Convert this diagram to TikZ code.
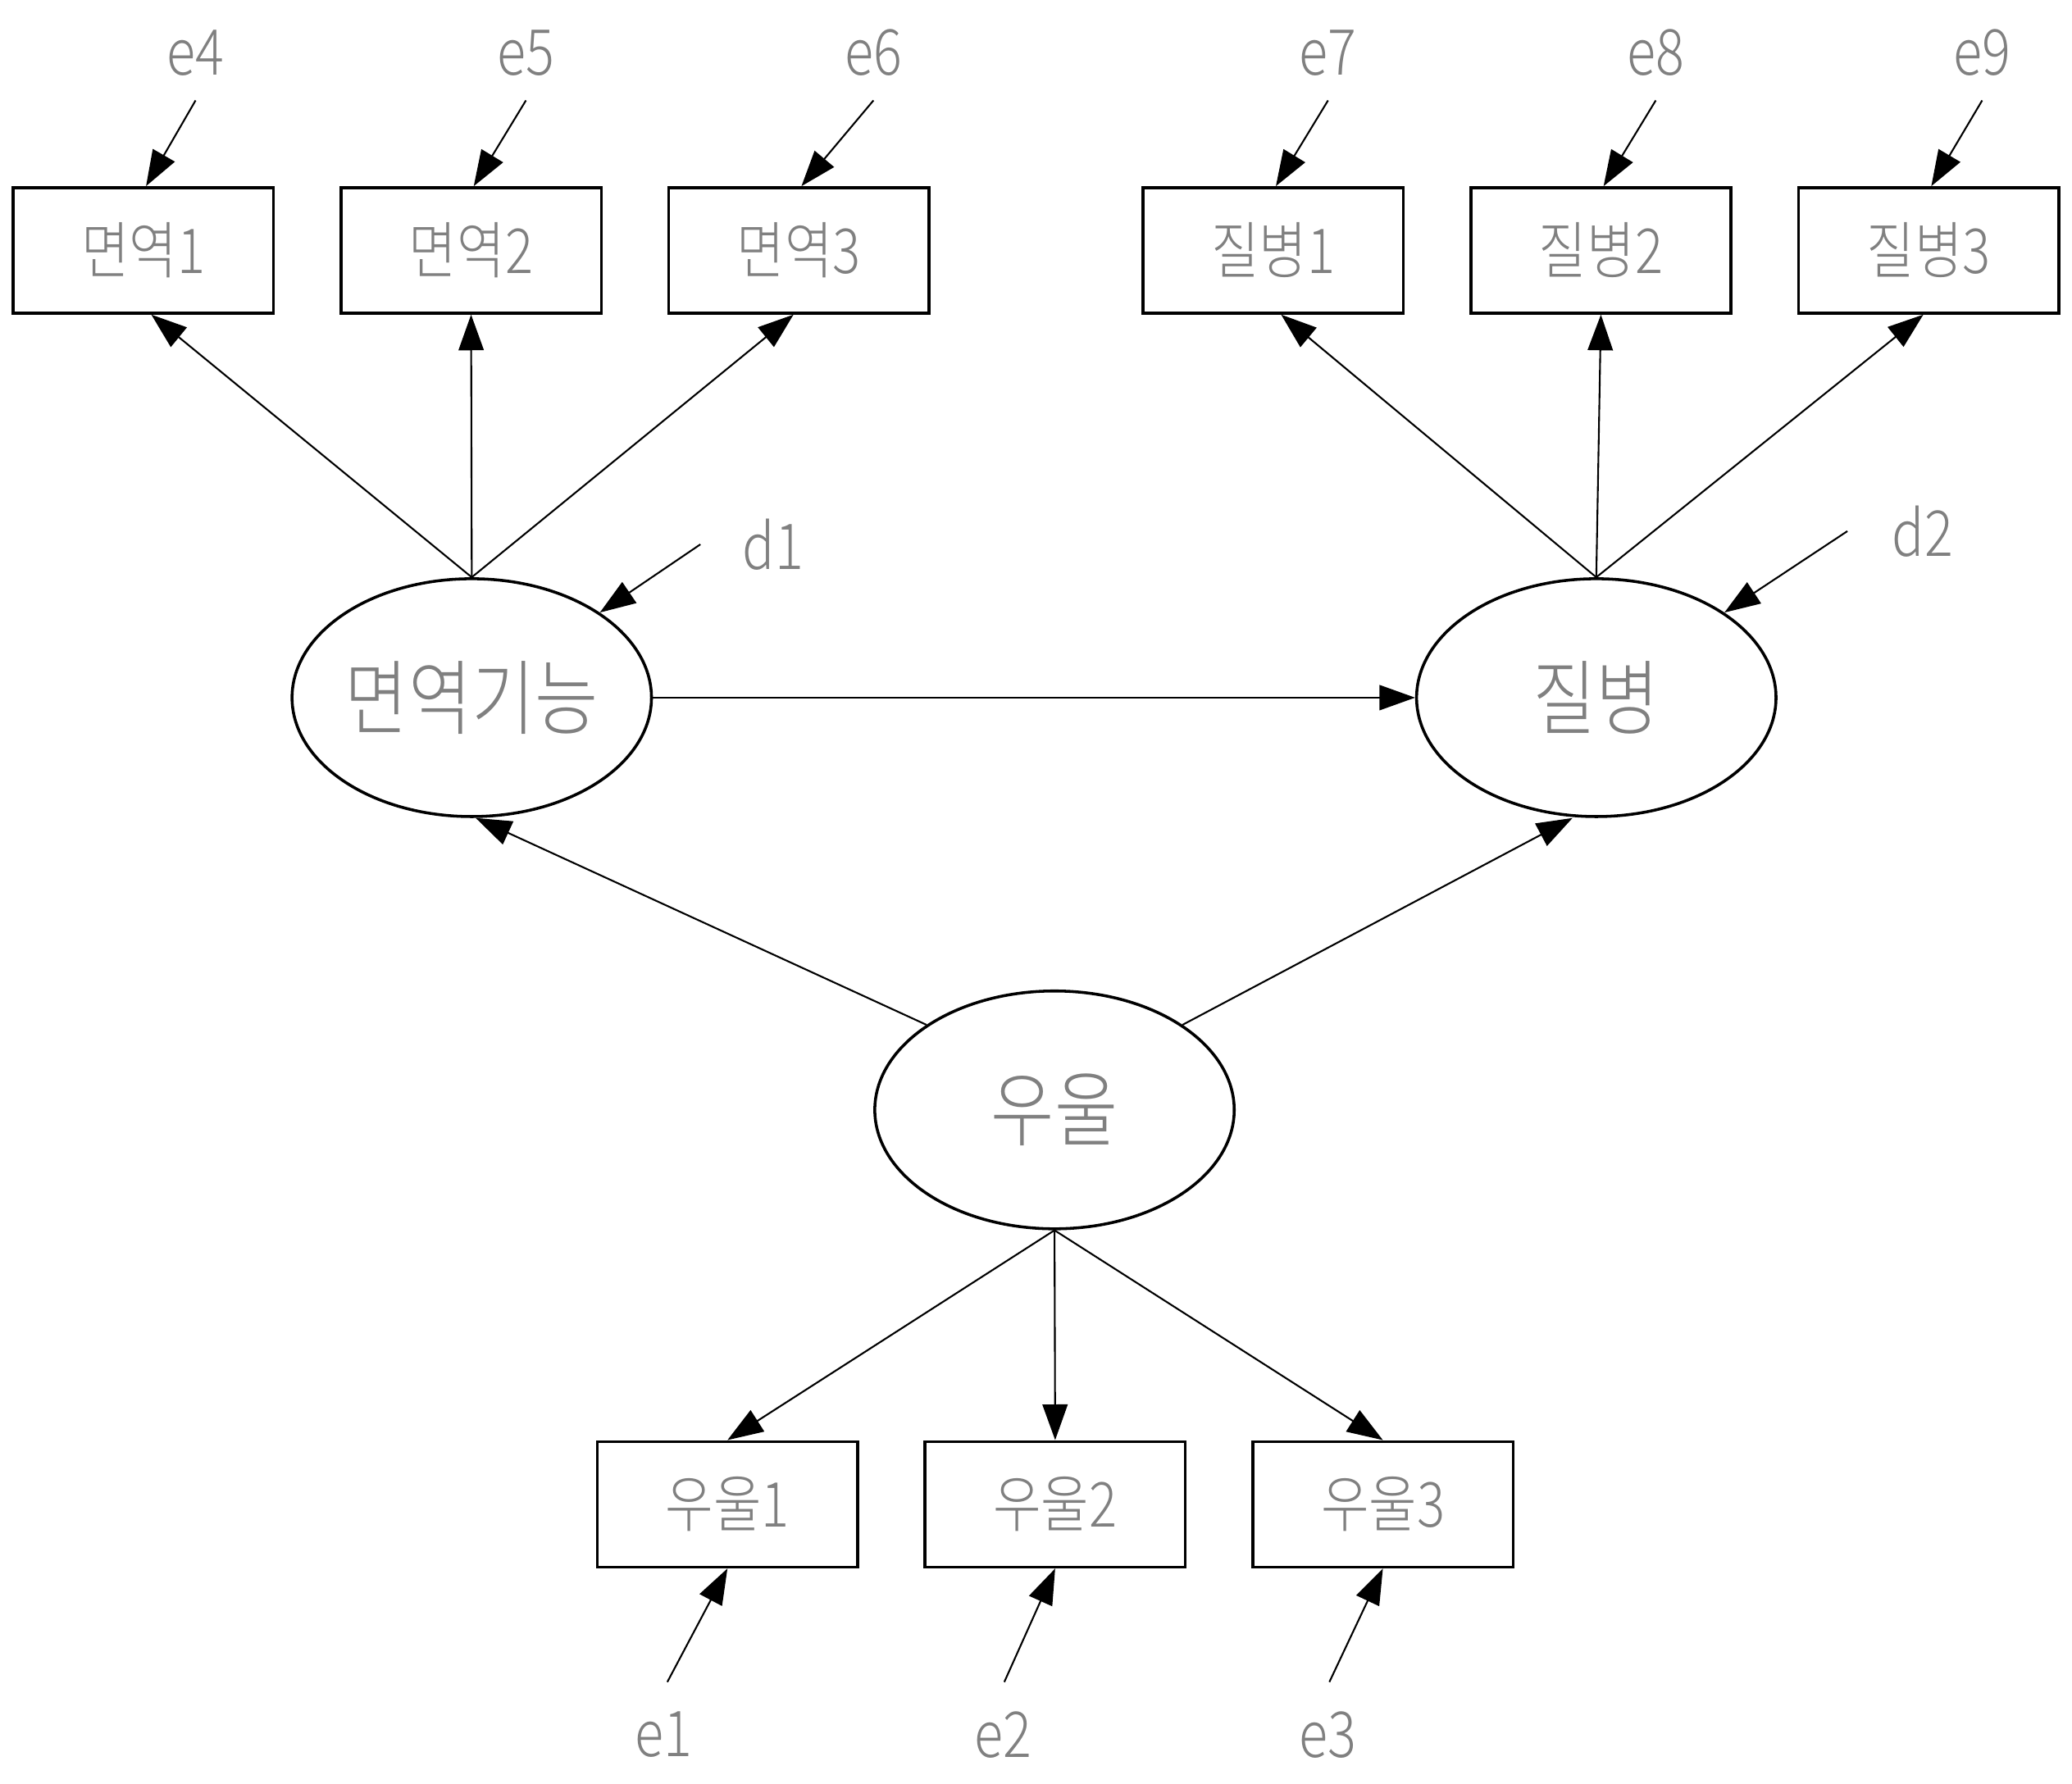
\documentclass[tikz,border=0pt]{standalone}
\usepackage{fontspec}
\setmainfont{Noto Sans CJK KR}[UprightFont=* Light,FakeStretch=0.84]
\usetikzlibrary{shapes.geometric,arrows.meta}
\definecolor{txtgray}{RGB}{128,128,128}
\tikzset{
  obs/.style={draw,line width=1.1pt,rectangle,minimum width=98.5pt,minimum height=47.5pt,inner sep=0pt,text=txtgray,font=\fontsize{23.5pt}{27pt}\selectfont},
  lat/.style={draw,line width=1.1pt,ellipse,minimum width=136pt,minimum height=90pt,inner sep=0pt,text=txtgray,font=\fontsize{31pt}{35pt}\selectfont},
  lbl/.style={inner sep=0pt,text=txtgray,font=\fontsize{24pt}{28pt}\selectfont},
  arr/.style={line width=0.65pt,-{Triangle[length=13.5pt,width=9.5pt]}}
}
\begin{document}
\begin{tikzpicture}[x=0.5pt,y=-0.5pt]
\useasboundingbox (0,0) rectangle (1568,1350);
% observed top
\node[obs] (m1) at (108.5,189.5) {면역1};
\node[obs] (m2) at (356.5,189.5) {면역2};
\node[obs] (m3) at (604.5,189.5) {면역3};
\node[obs] (q1) at (963.5,189.5) {질병1};
\node[obs] (q2) at (1211.5,189.5) {질병2};
\node[obs] (q3) at (1459.5,189.5) {질병3};
% observed bottom
\node[obs] (u1) at (550.5,1138.5) {우울1};
\node[obs] (u2) at (798.5,1138.5) {우울2};
\node[obs] (u3) at (1046.5,1138.5) {우울3};
% latent
\node[lat] (f) at (357,528) {면역기능};
\node[lat] (j) at (1208,528) {질병};
\node[lat] (u) at (798,840) {우울};
% error labels
\node[lbl] (e4) at (148,40) {e4};
\node[lbl] (e5) at (398,40) {e5};
\node[lbl] (e6) at (661,40) {e6};
\node[lbl] (e7) at (1005,40) {e7};
\node[lbl] (e8) at (1253,40) {e8};
\node[lbl] (e9) at (1500,40) {e9};
\node[lbl] (d1) at (585,412) {d1};
\node[lbl] (d2) at (1455,402) {d2};
\node[lbl] (e1) at (502,1313) {e1};
\node[lbl] (e2) at (759,1313) {e2};
\node[lbl] (e3) at (1005,1313) {e3};
% error start coordinates
\coordinate (s4) at (148,76);
\coordinate (s5) at (398,76);
\coordinate (s6) at (661,76);
\coordinate (s7) at (1005,76);
\coordinate (s8) at (1253,76);
\coordinate (s9) at (1500,76);
\coordinate (sd1) at (530,412);
\coordinate (sd2) at (1398,402);
\coordinate (s1) at (505,1273);
\coordinate (s2) at (760,1273);
\coordinate (s3) at (1006,1273);
% error arrows
\draw[arr] (s4) -- ([xshift=1pt]m1.north);
\draw[arr] (s5) -- ([xshift=1pt]m2.north);
\draw[arr] (s6) -- ([xshift=1pt]m3.north);
\draw[arr] (s7) -- ([xshift=1pt]q1.north);
\draw[arr] (s8) -- ([xshift=1pt]q2.north);
\draw[arr] (s9) -- ([xshift=1pt]q3.north);
\draw[arr] (sd1) -- (f.north east);
\draw[arr] (sd2) -- (j.north east);
\draw[arr] (s1) -- (u1.south);
\draw[arr] (s2) -- (u2.south);
\draw[arr] (s3) -- (u3.south);
% loadings
\draw[arr] (f.north) -- ([xshift=3pt]m1.south);
\draw[arr] (f.north) -- (m2.south);
\draw[arr] (f.north) -- ([xshift=-2pt]m3.south);
\draw[arr] (j.north) -- ([xshift=3pt]q1.south);
\draw[arr] (j.north) -- (q2.south);
\draw[arr] (j.north) -- ([xshift=-2pt]q3.south);
\draw[arr] (u.south) -- (u1.north);
\draw[arr] (u.south) -- (u2.north);
\draw[arr] (u.south) -- (u3.north);
% structural paths
\draw[arr] (f.east) -- (j.west);
\draw[arr] (u.north west) -- ([xshift=1.5pt]f.south);
\draw[arr] (u.north east) -- ([xshift=-9pt]j.south);
\end{tikzpicture}
\end{document}
